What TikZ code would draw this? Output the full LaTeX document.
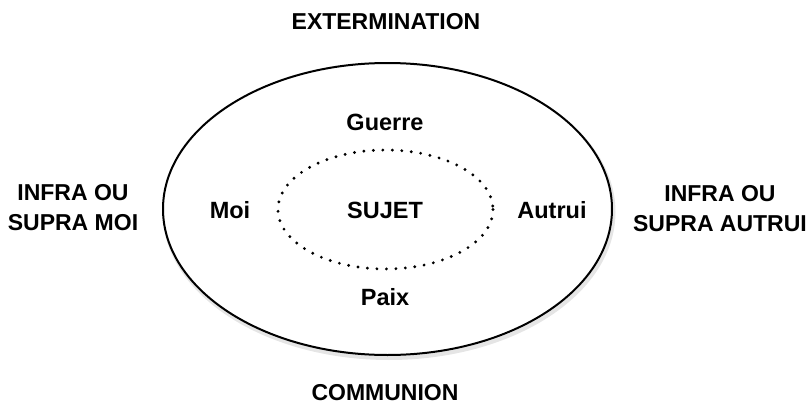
\documentclass[tikz,border=0pt]{standalone}
\usepackage{fontspec}
\setmainfont{Liberation Sans}
\usepackage{tikz}
\usetikzlibrary{positioning}

\begin{document}
\begin{tikzpicture}[x=1pt, y=-1pt,
  big/.style={font=\fontsize{23}{30}\selectfont\bfseries, align=center, inner sep=0pt},
  inlbl/.style={font=\fontsize{23.5}{28}\selectfont\bfseries, inner sep=0pt},
  outer/.style={draw, line width=2pt},
  inner/.style={draw, line width=3.2pt, line cap=round, dash pattern=on 0pt off 9.5pt},
]
\useasboundingbox (0,0) rectangle (807,407);

% --- ellipses ---
\draw[gray!20, line width=4pt] (389,212) ellipse [x radius=224.5, y radius=146];
\draw[outer, fill=white] (387.5,209) ellipse [x radius=224.5, y radius=146];
\draw[inner] (385.5,209.5) ellipse [x radius=107.5, y radius=59.5];

% --- outside labels ---
\node[big] (ext) at (386,22) {EXTERMINATION};
\node[big] (comm) at (385,393) {COMMUNION};
\node[big] (infmoi) at (73,208) {INFRA OU\\SUPRA MOI};
\node[big] (infautrui) at (720,209) {INFRA OU\\SUPRA AUTRUI};

% --- inside labels ---
\node[inlbl] (guerre) at (385,122) {Guerre};
\node[inlbl] (sujet) at (385,210) {SUJET};
\node[inlbl] (moi) at (230,210) {Moi};
\node[inlbl] (autrui) at (552,210) {Autrui};
\node[inlbl] (paix) at (385,297) {Paix};
\end{tikzpicture}
\end{document}
